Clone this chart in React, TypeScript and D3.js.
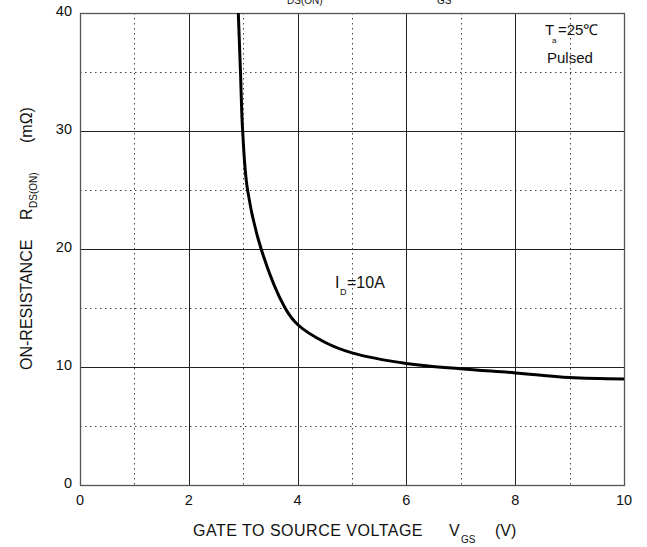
import React, { useEffect, useRef } from 'react';
import * as d3 from 'd3';

// gate-source voltage (V) vs on-resistance (mΩ)
const vgs = [2.91, 2.95, 2.99, 3.08, 3.33, 3.77, 4.0, 4.5, 5.0, 6.0, 7.0, 8.0, 9.0, 10.0];
const rdsOn = [40, 35, 30, 25, 20, 15, 13.6, 12.1, 11.2, 10.3, 9.85, 9.5, 9.1, 8.98];

const xTicks = [0, 2, 4, 6, 8, 10];
const xMinor = [1, 3, 5, 7, 9];
const yTicks = [0, 10, 20, 30, 40];
const yMinor = [5, 15, 25, 35];

const NARROW = '"Liberation Sans Narrow", "Liberation Sans", Arial, sans-serif';
const SANS = '"Liberation Sans", Arial, sans-serif';

const W = 647;
const H = 547;

const App = () => {
  const svgRef = useRef<SVGSVGElement>(null);

  useEffect(() => {
    const margin = { top: 13, right: 23, bottom: 62, left: 80 };
    const width = W - margin.left - margin.right;
    const height = H - margin.top - margin.bottom;

    d3.select(svgRef.current).selectAll('*').remove();

    const root = d3.select(svgRef.current);
    const svg = root.append('g')
      .attr('transform', `translate(${margin.left},${margin.top})`);

    const x = d3.scaleLinear().domain([0, 10]).range([0, width]);
    const y = d3.scaleLinear().domain([0, 40]).range([height, 0]);

    // dotted minor grid
    svg.selectAll('.vminor')
      .data(xMinor)
      .enter().append('line')
      .attr('x1', d => Math.round(x(d)) + 0.5)
      .attr('x2', d => Math.round(x(d)) + 0.5)
      .attr('y1', 0)
      .attr('y2', height)
      .attr('stroke', '#444')
      .attr('stroke-width', 1)
      .attr('stroke-dasharray', '1.5,3.5');

    svg.selectAll('.hminor')
      .data(yMinor)
      .enter().append('line')
      .attr('x1', 0)
      .attr('x2', width)
      .attr('y1', d => Math.round(y(d)) + 0.5)
      .attr('y2', d => Math.round(y(d)) + 0.5)
      .attr('stroke', '#444')
      .attr('stroke-width', 1)
      .attr('stroke-dasharray', '1.5,3.5');

    // solid major grid
    svg.selectAll('.vmajor')
      .data(xTicks.slice(1, -1))
      .enter().append('line')
      .attr('x1', d => Math.round(x(d)) + 0.5)
      .attr('x2', d => Math.round(x(d)) + 0.5)
      .attr('y1', 0)
      .attr('y2', height)
      .attr('stroke', '#222')
      .attr('stroke-width', 1);

    svg.selectAll('.hmajor')
      .data(yTicks.slice(1, -1))
      .enter().append('line')
      .attr('x1', 0)
      .attr('x2', width)
      .attr('y1', d => Math.round(y(d)) + 0.5)
      .attr('y2', d => Math.round(y(d)) + 0.5)
      .attr('stroke', '#222')
      .attr('stroke-width', 1);

    // frame
    svg.append('rect')
      .attr('x', 0.5)
      .attr('y', 0.5)
      .attr('width', width)
      .attr('height', height)
      .attr('fill', 'none')
      .attr('stroke', '#555')
      .attr('stroke-width', 1.3);

    // curve
    const pts = vgs.map((v, i) => [v, rdsOn[i]] as [number, number]);
    const line = d3.line<[number, number]>()
      .x(d => x(d[0]))
      .y(d => y(d[1]))
      .curve(d3.curveCatmullRom.alpha(0.5));

    svg.append('path')
      .datum(pts)
      .attr('fill', 'none')
      .attr('stroke', '#000')
      .attr('stroke-width', 3)
      .attr('stroke-linejoin', 'round')
      .attr('d', line);

    // tick labels
    svg.selectAll('.xlab')
      .data(xTicks)
      .enter().append('text')
      .attr('x', d => x(d))
      .attr('y', height + 20)
      .attr('text-anchor', 'middle')
      .attr('font-family', NARROW)
      .attr('font-size', 14.5)
      .attr('fill', '#111')
      .text(d => d);

    svg.selectAll('.ylab')
      .data(yTicks)
      .enter().append('text')
      .attr('x', -8)
      .attr('y', d => y(d) + 3)
      .attr('text-anchor', 'end')
      .attr('font-family', NARROW)
      .attr('font-size', 14.5)
      .attr('fill', '#111')
      .text(d => d);

    // x-axis title
    const xt = root.append('text')
      .attr('y', 536)
      .attr('font-family', SANS)
      .attr('font-size', 16)
      .attr('fill', '#111');
    xt.append('tspan').attr('x', 193).attr('letter-spacing', 0.5).text('GATE TO SOURCE VOLTAGE');
    xt.append('tspan').attr('x', 449).text('V');
    xt.append('tspan').attr('x', 461).attr('dy', 7).attr('font-size', 10).text('GS');
    xt.append('tspan').attr('x', 495).attr('dy', -7).text('(V)');

    // y-axis title
    const yt = root.append('text')
      .attr('transform', 'translate(32,370) rotate(-90)')
      .attr('font-family', SANS)
      .attr('font-size', 16)
      .attr('fill', '#111');
    yt.append('tspan').attr('x', 0).text('ON-RESISTANCE');
    yt.append('tspan').attr('x', 150).text('R');
    yt.append('tspan').attr('x', 162).attr('dy', 5).attr('font-size', 10).text('DS(ON)');
    yt.append('tspan').attr('x', 227).attr('dy', -5).text('(mΩ)');

    // title, mostly cut off at the top edge
    const tt = root.append('text')
      .attr('y', -3)
      .attr('font-family', SANS)
      .attr('font-size', 16)
      .attr('fill', '#111');
    tt.append('tspan').attr('x', 275).text('R');
    tt.append('tspan').attr('x', 287).attr('dy', 7).attr('font-size', 10).text('DS(ON)');
    tt.append('tspan').attr('x', 425).attr('dy', -7).text('V');
    tt.append('tspan').attr('x', 437).attr('dy', 7).attr('font-size', 10).text('GS');

    // annotations
    const ta = root.append('text')
      .attr('y', 35)
      .attr('font-family', NARROW)
      .attr('font-size', 15)
      .attr('fill', '#111');
    ta.append('tspan').attr('x', 545).text('T');
    ta.append('tspan').attr('x', 552).attr('dy', 8).attr('font-size', 8).text('a');
    ta.append('tspan').attr('x', 558).attr('dy', -8).text('=25℃');

    root.append('text')
      .attr('x', 547)
      .attr('y', 63)
      .attr('font-family', NARROW)
      .attr('font-size', 15)
      .attr('fill', '#111')
      .text('Pulsed');

    const id = root.append('text')
      .attr('y', 288)
      .attr('font-family', NARROW)
      .attr('font-size', 16)
      .attr('fill', '#111');
    id.append('tspan').attr('x', 335).text('I');
    id.append('tspan').attr('x', 340).attr('dy', 7).attr('font-size', 9).text('D');
    id.append('tspan').attr('x', 347).attr('dy', -7).text('=10A');
  }, []);

  return (
    <svg
      ref={svgRef}
      width={W}
      height={H}
      style={{ position: 'absolute', left: 0, top: 0, background: '#fff' }}
    />
  );
};

export default App;
